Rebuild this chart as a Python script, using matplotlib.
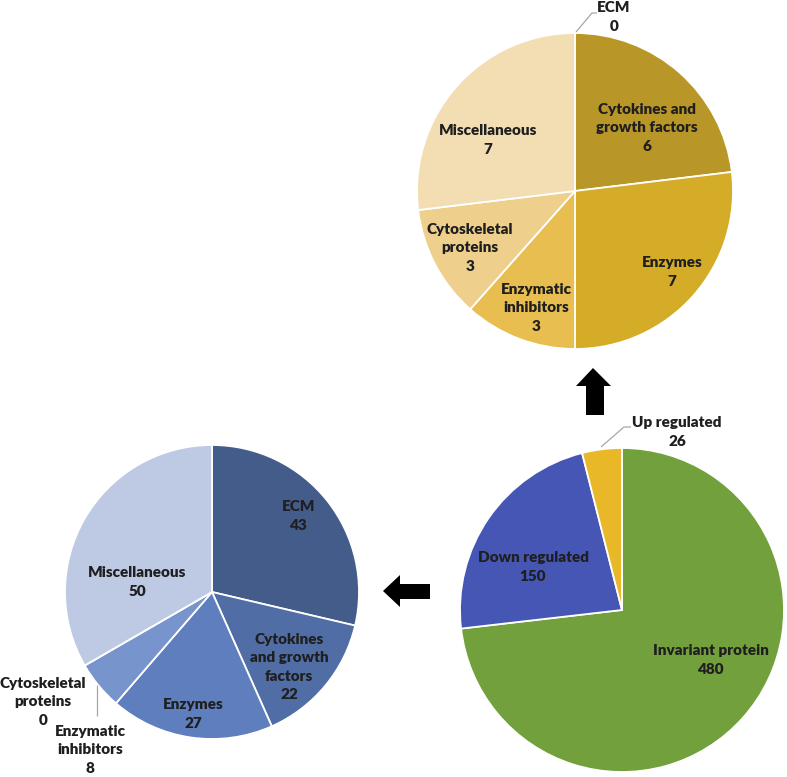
import matplotlib
matplotlib.use('Agg')
from matplotlib import pyplot as plt
from matplotlib.patches import Polygon

W, H = 787, 777

# top pie: up-regulated proteins
up_names = ['ECM', 'Cytokines and\ngrowth factors', 'Enzymes', 'Enzymatic\ninhibitors',
            'Cytoskeletal\nproteins', 'Miscellaneous']
up_values = [0, 6, 7, 3, 3, 7]
up_colors = ['#B99628', '#B99628', '#D5AC28', '#E8BE50', '#EED08C', '#F2DEB2']

# bottom-left pie: down-regulated proteins
down_names = ['ECM', 'Cytokines\nand growth\nfactors', 'Enzymes', 'Enzymatic\ninhibitors',
              'Cytoskeletal\nproteins', 'Miscellaneous']
down_values = [43, 22, 27, 8, 0, 50]
down_colors = ['#445C8A', '#506EA5', '#5E7EBE', '#7894CD', '#7894CD', '#BECAE4']

# bottom-right pie: all proteins
all_names = ['Invariant protein', 'Down regulated', 'Up regulated']
all_values = [480, 150, 26]
all_colors = ['#72A03C', '#4656B4', '#E8B828']

# label anchors in image pixels (x, y from top)
up_pos = [(614, 17), (647, 128), (672, 272), (536, 308), (470, 248), (488, 140)]
down_pos = [(299, 516), (289, 667), (193, 714), (90, 750), (43, 702), (137, 582)]
all_pos = [(711, 660), (533, 567), (677, 432)]

TXT = '#1f1f1f'
LEADER = '#A6A6A6'


def px(x, y):
    return x, H - y


def draw_pie(ax, values, colors, names, pos, center, radius):
    ax.pie(values, colors=colors, startangle=90, counterclock=False,
           center=px(*center), radius=radius, frame=True,
           wedgeprops={'edgecolor': 'white', 'linewidth': 1.3})
    for name, val, (x, y) in zip(names, values, pos):
        ax.text(*px(x, y), '{}\n{}'.format(name, val), ha='center', va='center',
                fontsize=11, fontweight='heavy', family='Lato', color=TXT,
                linespacing=1.5)


def leader(ax, pts):
    xs, ys = zip(*[px(x, y) for x, y in pts])
    ax.plot(xs, ys, color=LEADER, lw=0.9, solid_capstyle='butt')


fig = plt.figure(figsize=(W / 100, H / 100), dpi=100)
ax = fig.add_axes([0, 0, 1, 1])

draw_pie(ax, up_values, up_colors, up_names, up_pos, (575, 191), 158)
draw_pie(ax, down_values, down_colors, down_names, down_pos, (212, 592), 147)
draw_pie(ax, all_values, all_colors, all_names, all_pos, (622, 610), 162)

leader(ax, [(576, 32), (592, 13), (597, 13)])
leader(ax, [(97, 685), (97, 716)])
leader(ax, [(601, 447), (624, 427), (631, 427)])

# arrows
up_arrow = [(593, 368), (576, 386), (586, 386), (586, 415), (604, 415), (604, 386), (611, 386)]
left_arrow = [(383, 591), (400, 575), (400, 584), (430, 584), (430, 599), (400, 599), (400, 607)]
for pts in (up_arrow, left_arrow):
    ax.add_patch(Polygon([px(x, y) for x, y in pts], closed=True, color='black', lw=0))

ax.set_xlim(0, W)
ax.set_ylim(0, H)
ax.set_aspect('equal')
ax.axis('off')

fig.savefig('out.png', dpi=100)
